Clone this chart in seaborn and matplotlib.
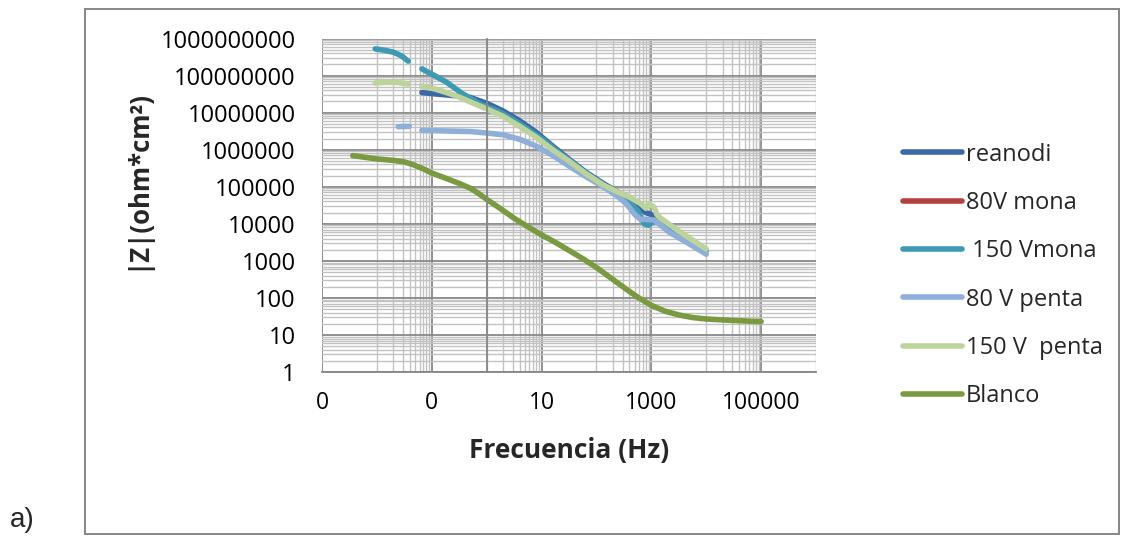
import numpy as np
import pandas as pd
import matplotlib.pyplot as plt
import matplotlib.ticker as mticker
from matplotlib.lines import Line2D
from matplotlib.patches import Rectangle
import seaborn as sns

nan = np.nan

# series (legend order) and colours
series = ['reanodi', '80V mona', ' 150 Vmona', '80 V penta', '150 V  penta', 'Blanco']
colores = ['#3C69A6', '#B5413E', '#3D9AB3', '#8FAEDA', '#BCD39B', '#7A9A40']

# frequency (Hz) / |Z| (ohm*cm2), nan = gap in the curve
f_reanodi = [0.0661, 0.126, 0.251, 0.501, 1, 1.41, 2.0, 3.98, 8.13, 15.8, 32.4, 63.1, 132, 251, 407, 617,
             794, 1000, 1995, 3981, 10000]
z_reanodi = [3.47e7, 3.16e7, 2.88e7, 2.57e7, 1.78e7, 1.41e7, 1.10e7, 6.03e6, 2.88e6, 1.26e6, 5.37e5, 2.51e5,
             1.23e5, 7.08e4, 4.37e4, 2.57e4, 2.0e4, 1.78e4, 8.91e3, 4.47e3, 2.0e3]

f_80mona = []
z_80mona = []

f_150mona = [0.00933, 0.0141, 0.02, 0.0282, 0.0372, nan,
             0.0661, 0.112, 0.186, 0.355, 0.759, 1.58, 3.16, 5.62, 10, 17.8, 31.6, 63.1, 126, 251, 398, 562,
             741, 891, 1122, 1413, 3162, 10000]
z_150mona = [5.25e8, 4.79e8, 4.27e8, 3.39e8, 2.45e8, nan,
             1.51e8, 1.0e8, 6.61e7, 3.31e7, 1.70e7, 1.12e7, 6.31e6, 3.55e6, 2.0e6, 1.0e6, 5.25e5, 2.40e5,
             1.20e5, 6.31e4, 3.98e4, 2.24e4, 1.0e4, 9.12e3, 1.20e4, 1.20e4, 5.25e3, 1.86e3]

f_80penta = [0.0245, 0.0389, nan,
             0.0661, 0.126, 0.251, 0.501, 1, 2.0, 3.98, 8.13, 15.8, 32.4, 63.1, 132, 224, 347, 501, 631, 794,
             1122, 2138, 5012, 10000]
z_80penta = [4.17e6, 4.27e6, nan,
             3.31e6, 3.24e6, 3.16e6, 3.09e6, 2.82e6, 2.51e6, 1.91e6, 1.23e6, 7.08e5, 3.55e5, 1.91e5, 1.0e5,
             6.03e4, 3.55e4, 1.78e4, 1.32e4, 1.32e4, 1.26e4, 5.89e3, 2.82e3, 1.51e3]

f_150penta = [0.00933, 0.0141, 0.0224, 0.0372, nan,
              0.0661, 0.112, 0.186, 0.316, 0.501, 1, 2.0, 3.98, 8.13, 15.8, 32.4, 63.1, 132, 251, 398, 631,
              794, 891, 1122, 1259, 1445, 3162, 10000]
z_150penta = [6.31e7, 6.61e7, 6.61e7, 5.89e7, nan,
              5.13e7, 4.37e7, 3.47e7, 2.63e7, 1.95e7, 1.26e7, 7.94e6, 4.27e6, 2.14e6, 1.0e6, 4.79e5, 2.29e5,
              1.12e5, 7.08e4, 5.25e4, 3.55e4, 2.63e4, 3.55e4, 2.82e4, 1.78e4, 1.45e4, 6.31e3, 2.09e3]

f_blanco = [0.00363, 0.00631, 0.01, 0.02, 0.0316, 0.0468, 0.0708, 0.1, 0.178, 0.316, 0.501, 0.708, 1, 1.78,
            3.16, 5.62, 10, 17.8, 31.6, 56.2, 100, 178, 316, 562, 1000, 1778, 3162, 5623, 10000, 31623, 100000]
z_blanco = [6.92e5, 6.17e5, 5.62e5, 5.13e5, 4.68e5, 3.89e5, 3.02e5, 2.34e5, 1.70e5, 1.23e5, 9.12e4, 6.61e4,
            4.57e4, 2.57e4, 1.41e4, 8.32e3, 5.01e3, 3.16e3, 1.91e3, 1.15e3, 661, 355, 191, 105, 63.1, 43.7,
            34.7, 29.5, 26.9, 24.5, 22.9]

frecs = [f_reanodi, f_80mona, f_150mona, f_80penta, f_150penta, f_blanco]
imps = [z_reanodi, z_80mona, z_150mona, z_80penta, z_150penta, z_blanco]

# long table, one 'tramo' per unbroken piece of curve
tablas = []
for nombre, f, z in zip(series, frecs, imps):
    d = pd.DataFrame({'f': f, 'z': z}, dtype=float)
    d['tramo'] = d['z'].isna().cumsum()
    d['serie'] = nombre
    tablas.append(d.dropna())
df = pd.concat(tablas, ignore_index=True)

sns.set_theme(style='white')
plt.rcParams['font.family'] = ['Open Sans', 'DejaVu Sans']

fig = plt.figure(figsize=(11.21, 5.40), dpi=100)
ax = fig.add_axes([322/1121, 1 - 372/540, 494/1121, 333.5/540])

sns.lineplot(data=df, x='f', y='z', hue='serie', units='tramo', estimator=None, sort=False,
             hue_order=series, palette=dict(zip(series, colores)), lw=4,
             solid_capstyle='round', legend=False, ax=ax)

ax.set_xscale('log')
ax.set_yscale('log')
ax.set_xlim(1e-3, 1e6)
ax.set_ylim(1, 1e9)

# Excel-like log axes: x labelled every 2 decades, y every decade
fmt = mticker.FuncFormatter(lambda v, p: f'{v:.0f}')
yticks = 10.0 ** np.arange(0, 10)
ax.xaxis.set_major_locator(mticker.FixedLocator([1e-3, 1e-1, 1e1, 1e3, 1e5]))
ax.xaxis.set_minor_locator(mticker.FixedLocator([k * 10.0**e for e in (-2, 0, 2, 4) for k in range(1, 10)] + [1e6]))
ax.xaxis.set_major_formatter(fmt)
ax.xaxis.set_minor_formatter(mticker.NullFormatter())
ax.yaxis.set_major_locator(mticker.FixedLocator(yticks))
ax.yaxis.set_minor_locator(mticker.LogLocator(base=10, subs=np.arange(2, 10), numticks=20))
ax.yaxis.set_minor_formatter(mticker.NullFormatter())

ax.grid(True, which='major', color='#888888', lw=1.3)
ax.grid(True, which='minor', color='#C2C2C2', lw=1.0)
ax.set_axisbelow(True)

for s in ['top', 'right']:
    ax.spines[s].set_visible(False)
ax.spines['bottom'].set_color('#868686')
ax.spines['bottom'].set_linewidth(1.3)
# vertical axis crosses at 1 Hz, labels kept at the left
ax.spines['left'].set_position(('data', 1))
ax.spines['left'].set_color('#868686')
ax.spines['left'].set_linewidth(1.3)

ax.tick_params(axis='x', which='major', length=5, width=1.2, color='#868686', pad=9, labelsize=16.5, labelcolor='black')
ax.tick_params(axis='y', which='major', length=5, width=1.2, color='#868686', labelleft=False)
ax.tick_params(which='minor', length=0)

sec = ax.secondary_yaxis(0.0)
sec.yaxis.set_major_locator(mticker.FixedLocator(yticks))
sec.yaxis.set_minor_locator(mticker.NullLocator())
sec.yaxis.set_major_formatter(fmt)
sec.tick_params(length=0, pad=19, labelsize=17, labelcolor='black')
for s in sec.spines.values():
    s.set_visible(False)

ax.set_xlabel('Frecuencia (Hz)', fontsize=19, fontweight='bold')
ax.xaxis.label.set_va('center')
ax.xaxis.set_label_coords(0.5, -0.234)
ax.set_ylabel('|Z|(ohm*cm²)', fontsize=18.5, fontweight='bold')
ax.yaxis.label.set_va('center')
ax.yaxis.set_label_coords(-0.3745, 0.576)

handles = [Line2D([], [], color=c, lw=4, solid_capstyle='round') for c in colores]
fig.legend(handles, series, loc='upper left', bbox_to_anchor=(0.8055, 0.736), frameon=False,
           fontsize=17, handlelength=2.5, handletextpad=0.15, labelspacing=1.03,
           borderpad=0, borderaxespad=0)

# chart area border and panel letter
fig.patches.append(Rectangle((85/1121, 1 - 534/540), (1119 - 85)/1121, 525/540, transform=fig.transFigure,
                             fill=False, ec='#868686', lw=1.4))
fig.text(0.009, 0.037, 'a)', fontsize=20, family='Liberation Sans', va='center', ha='left')

fig.savefig('out.png', dpi=100)
